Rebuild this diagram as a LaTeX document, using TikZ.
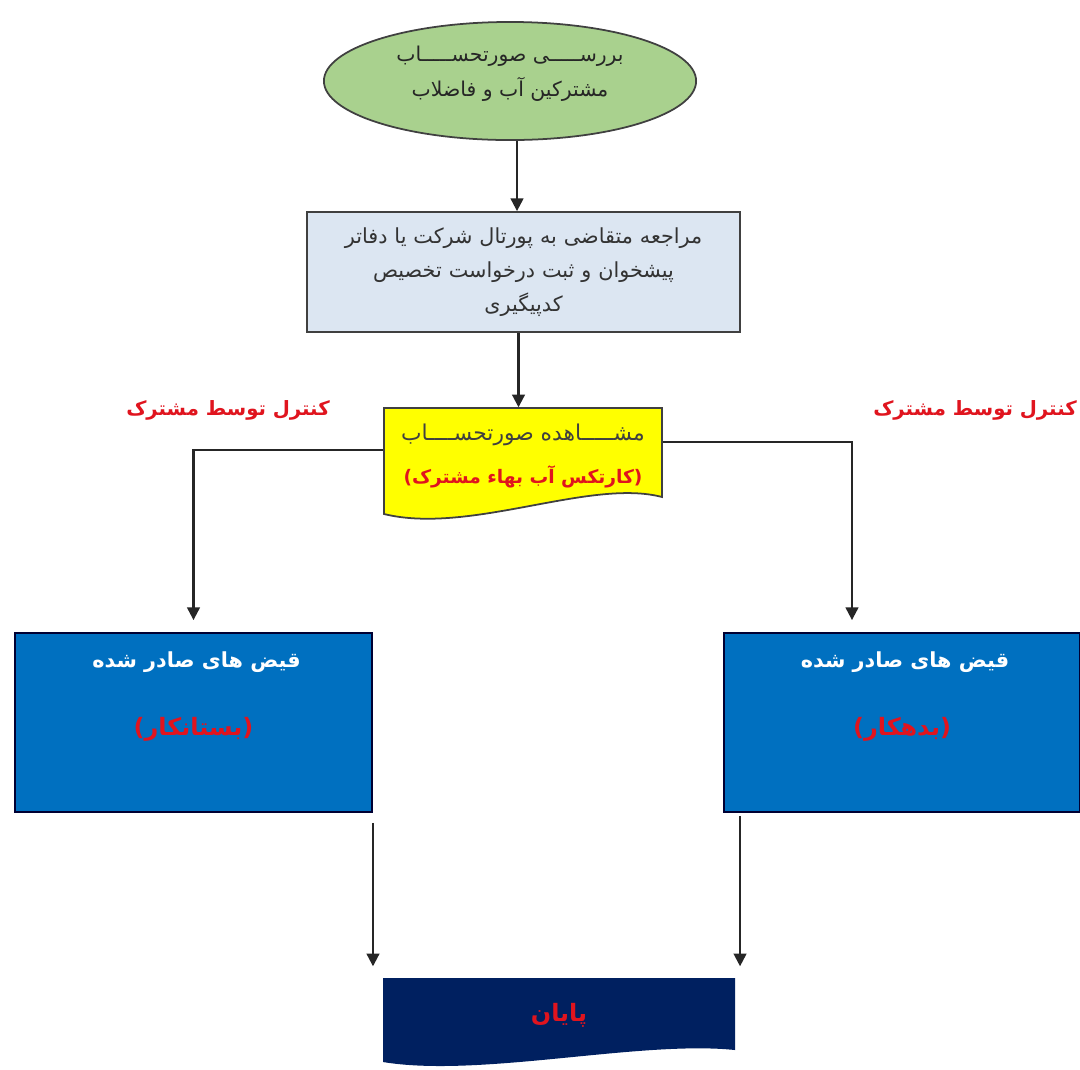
\documentclass[tikz,border=0pt]{standalone}
\usepackage{fontspec}
\usetikzlibrary{shapes.geometric,arrows.meta,calc}
\TeXXeTstate=1
\newfontfamily\fa[Script=Arabic]{DejaVu Sans}
\newcommand{\rtltext}[1]{\beginR #1\endR}
\definecolor{egreen}{HTML}{A9D18E}
\definecolor{boxgrey}{HTML}{DCE6F2}
\definecolor{docyel}{HTML}{FFFF00}
\definecolor{qblue}{HTML}{0070C0}
\definecolor{navyb}{HTML}{002060}
\definecolor{lblred}{HTML}{E0141E}
\begin{document}
\begin{tikzpicture}[x=0.01cm,y=-0.01cm,
  arr/.style={draw=black!85,line width=0.6pt,-{Triangle[length=3.6pt,width=3.6pt]}},
  outl/.style={draw=black!75,line width=0.5pt},
  lbl/.style={font=\fa\bfseries\fontsize{5.6}{7}\selectfont,text=lblred,inner sep=0pt},
  qbox/.style={rectangle,draw=black!80!blue,line width=0.5pt,fill=qblue,minimum width=3.57cm,minimum height=1.79cm,inner sep=0pt},
  wtext/.style={font=\fa\bfseries\fontsize{5.9}{7}\selectfont,text=white,inner sep=0pt},
  rtext/.style={font=\fa\bfseries\fontsize{6.8}{8}\selectfont,text=lblred,inner sep=0pt}]
\useasboundingbox (0,0) rectangle (1080,1069);
\fill[white] (0,0) rectangle (1080,1069);

% start ellipse
\node[ellipse,outl,fill=egreen,minimum width=3.72cm,minimum height=1.18cm,inner sep=0pt] (ell) at (510,81) {};
\node[align=center,inner sep=0pt,text=black!85,font=\fa\fontsize{5.8}{10}\selectfont] (ellt) at ($(ell)+(0,-7)$)
  {\rtltext{بررســـــی صورتحســـــاب}\\\rtltext{مشترکین آب و فاضلاب}};

% request box
\node[rectangle,outl,fill=boxgrey,minimum width=4.33cm,minimum height=1.2cm,inner sep=0pt,text width=4.2cm,align=center,
  text=black!80,font=\fa\fontsize{5.9}{9.7}\selectfont] (req) at (523.5,272)
  {\rtltext{مراجعه متقاضی به پورتال شرکت یا دفاتر}\\\rtltext{پیشخوان و ثبت درخواست تخصیص}\\\rtltext{کدپیگیری}};

% document shape
\filldraw[fill=docyel,outl] (384,408) -- (662,408) -- (662,497)
  .. controls (590,478) and (470,535) .. (384,514) -- cycle;
\node[minimum width=2.78cm,minimum height=1.07cm,inner sep=0pt] (doc) at (523,461.5) {};
\node[inner sep=0pt,font=\fa\fontsize{6.2}{8}\selectfont,text=black!75] (doct1) at ($(doc)+(0,-26.5)$)
  {\rtltext{مشـــــاهده صورتحســــاب}};
\node[inner sep=0pt,font=\fa\bfseries\fontsize{5.3}{8}\selectfont,text=lblred] (doct2) at ($(doc)+(0,15.5)$)
  {\rtltext{(کارتکس آب بهاء مشترک)}};

% labels
\node[lbl] (lblL) at (228,410) {\rtltext{کنترل توسط مشترک}};
\node[lbl] (lblR) at (975,410) {\rtltext{کنترل توسط مشترک}};

% blue boxes
\node[qbox] (lb) at (193.5,722.5) {};
\node[wtext] (lbt) at ($(lb.north)+(3,30)$) {\rtltext{قیض های صادر شده}};
\node[rtext] (lbs) at ($(lb.north)+(0,97)$) {\rtltext{(بستانکار)}};
\node[qbox,minimum width=3.56cm] (rb) at (902,722.5) {};
\node[wtext] (rbt) at ($(rb.north)+(3,30)$) {\rtltext{قیض های صادر شده}};
\node[rtext] (rbs) at ($(rb.north)+(0,97)$) {\rtltext{(بدهکار)}};

% end shape
\fill[navyb] (383,978) -- (735,978) -- (735,1050)
  .. controls (640,1040) and (480,1078) .. (383,1062) -- cycle;
\node[minimum width=3.52cm,minimum height=0.74cm,inner sep=0pt,rtext] (fin) at (559,1015) {\rtltext{پایان}};

% connectors
\coordinate (es) at ([xshift=0.7mm]ell.south);
\draw[arr] (es) -- (es |- req.north);
\coordinate (rqs) at ([xshift=-0.5mm]req.south);
\draw[arr] (rqs) -- (rqs |- doc.north);
\draw[arr,shorten >=1.2mm] ([yshift=1.15mm]doc.west) -| (lb.north);
\draw[arr,shorten >=1.2mm] ([yshift=1.95mm]doc.east) -| ([xshift=-5mm]rb.north);
\draw[arr,shorten <=1mm,shorten >=1.1mm] (lb.south east) -- (lb.south east |- fin.north);
\coordinate (rs) at ([xshift=1.7mm]rb.south west);
\draw[arr,shorten <=0.3mm,shorten >=1.1mm] (rs) -- (rs |- fin.north);
\end{tikzpicture}
\end{document}
